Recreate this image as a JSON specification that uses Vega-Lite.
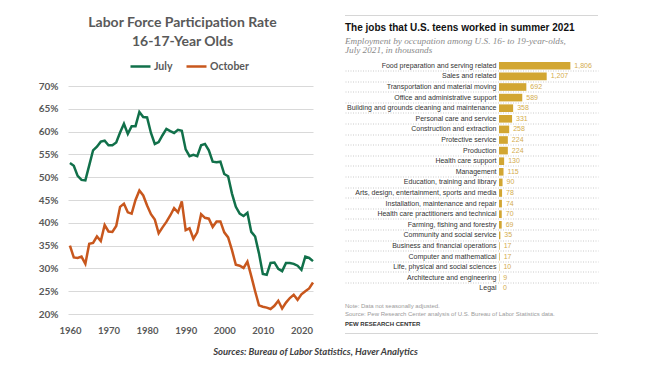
{
  "$schema": "https://vega.github.io/schema/vega-lite/v6.json",
  "background": "white",
  "padding": {"left": 5, "top": 15, "right": 5, "bottom": 5},
  "config": {"view": {"stroke": null}, "font": "Lato"},
  "title": {
    "text": "Sources: Bureau of Labor Statistics, Haver Analytics",
    "orient": "bottom", "anchor": "middle", "font": "Lato", "fontStyle": "italic",
    "fontWeight": "bold", "fontSize": 9.5, "color": "#404040", "offset": 12, "dx": 14
  },
  "spacing": 27,
  "hconcat": [
    {
      "spacing": 32,
      "vconcat": [
        {
          "width": 245, "height": 1,
          "view": {"stroke": null},
          "title": {
            "text": ["Labor Force Participation Rate", "16-17-Year Olds"],
            "orient": "bottom", "anchor": "middle", "dx": -8,
            "font": "Lato", "fontSize": 14, "fontWeight": "bold",
            "color": "#595959", "lineHeight": 18.5, "offset": 0
          },
          "data": {"values": []},
          "mark": "rule",
          "encoding": {}
        },
        {
          "width": 245,
          "height": 228,
          "data": {"values": [
            {"year": 1960, "July": 53.1, "October": 35.0},
            {"year": 1961, "July": 52.5, "October": 32.4},
            {"year": 1962, "July": 50.3, "October": 32.3},
            {"year": 1963, "July": 49.4, "October": 32.6},
            {"year": 1964, "July": 49.3, "October": 31.0},
            {"year": 1965, "July": 52.6, "October": 35.4},
            {"year": 1966, "July": 55.9, "October": 35.6},
            {"year": 1967, "July": 56.7, "October": 37.0},
            {"year": 1968, "July": 57.8, "October": 36.0},
            {"year": 1969, "July": 58.0, "October": 39.5},
            {"year": 1970, "July": 57.0, "October": 38.1},
            {"year": 1971, "July": 57.0, "October": 38.0},
            {"year": 1972, "July": 57.6, "October": 39.3},
            {"year": 1973, "July": 59.8, "October": 43.5},
            {"year": 1974, "July": 61.7, "October": 44.2},
            {"year": 1975, "July": 59.5, "October": 42.3},
            {"year": 1976, "July": 61.2, "October": 42.0},
            {"year": 1977, "July": 61.2, "October": 45.0},
            {"year": 1978, "July": 64.3, "October": 47.1},
            {"year": 1979, "July": 63.2, "October": 46.0},
            {"year": 1980, "July": 63.1, "October": 43.8},
            {"year": 1981, "July": 59.7, "October": 41.9},
            {"year": 1982, "July": 57.3, "October": 40.7},
            {"year": 1983, "July": 57.7, "October": 37.7},
            {"year": 1984, "July": 59.2, "October": 39.0},
            {"year": 1985, "July": 60.6, "October": 40.2},
            {"year": 1986, "July": 60.1, "October": 41.6},
            {"year": 1987, "July": 59.7, "October": 43.2},
            {"year": 1988, "July": 60.4, "October": 42.3},
            {"year": 1989, "July": 60.2, "October": 44.7},
            {"year": 1990, "July": 56.1, "October": 38.4},
            {"year": 1991, "July": 54.6, "October": 38.8},
            {"year": 1992, "July": 54.9, "October": 36.5},
            {"year": 1993, "July": 54.6, "October": 37.9},
            {"year": 1994, "July": 57.0, "October": 41.9},
            {"year": 1995, "July": 57.3, "October": 41.1},
            {"year": 1996, "July": 55.9, "October": 40.9},
            {"year": 1997, "July": 53.4, "October": 39.1},
            {"year": 1998, "July": 53.3, "October": 40.3},
            {"year": 1999, "July": 53.4, "October": 40.3},
            {"year": 2000, "July": 50.7, "October": 37.9},
            {"year": 2001, "July": 50.2, "October": 36.8},
            {"year": 2002, "July": 46.4, "October": 34.0},
            {"year": 2003, "July": 43.5, "October": 30.8},
            {"year": 2004, "July": 42.0, "October": 30.6},
            {"year": 2005, "July": 41.5, "October": 30.1},
            {"year": 2006, "July": 42.2, "October": 31.5},
            {"year": 2007, "July": 38.0, "October": 28.3},
            {"year": 2008, "July": 37.0, "October": 25.0},
            {"year": 2009, "July": 33.3, "October": 21.9},
            {"year": 2010, "July": 28.8, "October": 21.6},
            {"year": 2011, "July": 28.6, "October": 21.4},
            {"year": 2012, "July": 31.2, "October": 21.1},
            {"year": 2013, "July": 31.3, "October": 21.8},
            {"year": 2014, "July": 29.9, "October": 22.9},
            {"year": 2015, "July": 29.4, "October": 21.2},
            {"year": 2016, "July": 31.2, "October": 22.5},
            {"year": 2017, "July": 31.2, "October": 23.5},
            {"year": 2018, "July": 31.0, "October": 24.2},
            {"year": 2019, "July": 30.6, "October": 23.1},
            {"year": 2020, "July": 29.7, "October": 24.3},
            {"year": 2021, "July": 32.6, "October": 25.0},
            {"year": 2022, "July": 32.3, "October": 25.6},
            {"year": 2023, "July": 31.6, "October": 26.9}
          ]},
          "transform": [{"fold": ["July", "October"], "as": ["series", "rate"]}],
          "mark": {"type": "line", "strokeWidth": 2.5},
          "encoding": {
            "x": {
              "field": "year", "type": "quantitative",
              "scale": {"domain": [1959.5, 2023], "nice": false, "zero": false},
              "axis": {
                "title": null, "values": [1960, 1970, 1980, 1990, 2000, 2010, 2020], "format": "d",
                "grid": false, "ticks": false, "domain": false, "labelFont": "Lato",
                "labelFontWeight": "bold", "labelFontSize": 9.5, "labelColor": "#595959", "labelPadding": 11
              }
            },
            "y": {
              "field": "rate", "type": "quantitative",
              "scale": {"domain": [20, 70], "nice": false, "zero": false},
              "axis": {
                "title": null, "values": [20, 25, 30, 35, 40, 45, 50, 55, 60, 65, 70],
                "labelExpr": "datum.value + '%'", "grid": true, "gridColor": "#d9d9d9", "gridWidth": 1,
                "ticks": false, "domain": false, "labelFont": "Lato", "labelFontWeight": "bold",
                "labelFontSize": 10, "labelColor": "#595959", "labelPadding": 10,
                "minExtent": 63, "maxExtent": 63
              }
            },
            "color": {
              "field": "series", "type": "nominal",
              "scale": {"domain": ["July", "October"], "range": ["#11704A", "#C8571D"]},
              "legend": {
                "orient": "none", "legendX": 61, "legendY": 40, "direction": "horizontal", "title": null,
                "symbolType": "stroke", "symbolSize": 400, "symbolStrokeWidth": 2.5, "labelFont": "Lato",
                "labelFontSize": 10.5, "labelFontWeight": "bold", "labelColor": "#595959",
                "columnPadding": 8, "labelOffset": 2
              }
            }
          }
        }
      ]
    },
    {
      "spacing": 6.5,
      "vconcat": [
        {
          "width": 253, "height": 1,
          "view": {"stroke": null, "fill": "#d6d6d6"},
          "data": {"values": []},
          "mark": "rule",
          "encoding": {}
        },
        {
          "width": 253, "height": 235.5,
          "view": {"stroke": null},
          "title": {
            "text": "The jobs that U.S. teens worked in summer 2021",
            "subtitle": ["Employment by occupation among U.S. 16- to 19-year-olds,", "July 2021, in thousands"],
            "anchor": "start", "font": "Liberation Sans", "fontSize": 10, "fontWeight": "bold", "color": "#111111",
            "subtitleFont": "Liberation Serif", "subtitleFontStyle": "italic", "subtitleFontSize": 9.2,
            "subtitleColor": "#8a8a8a", "subtitlePadding": 4.5, "subtitleLineHeight": 8.7, "offset": 5.5
          },
          "data": {"values": [
            {"cat": "Food preparation and serving related", "v": 1806},
            {"cat": "Sales and related", "v": 1207},
            {"cat": "Transportation and material moving", "v": 692},
            {"cat": "Office and administrative support", "v": 589},
            {"cat": "Building and grounds cleaning and maintenance", "v": 358},
            {"cat": "Personal care and service", "v": 331},
            {"cat": "Construction and extraction", "v": 258},
            {"cat": "Protective service", "v": 224},
            {"cat": "Production", "v": 224},
            {"cat": "Health care support", "v": 130},
            {"cat": "Management", "v": 115},
            {"cat": "Education, training and library", "v": 90},
            {"cat": "Arts, design, entertainment, sports and media", "v": 78},
            {"cat": "Installation, maintenance and repair", "v": 74},
            {"cat": "Health care practitioners and technical", "v": 70},
            {"cat": "Farming, fishing and forestry", "v": 69},
            {"cat": "Community and social service", "v": 35},
            {"cat": "Business and financial operations", "v": 17},
            {"cat": "Computer and mathematical", "v": 17},
            {"cat": "Life, physical and social sciences", "v": 10},
            {"cat": "Architecture and engineering", "v": 9},
            {"cat": "Legal", "v": 0}
          ]},
          "encoding": {
            "y": {
              "field": "cat", "type": "nominal", "sort": null,
              "scale": {"paddingInner": 0, "paddingOuter": 0.1085, "align": 0},
              "axis": {
                "title": null, "labels": false, "ticks": false, "domain": false, "grid": true,
                "gridDash": [1, 1.5], "gridColor": "#bdbdbd", "gridWidth": 0.8, "bandPosition": 0,
                "minExtent": 0, "maxExtent": 0,
                "values": ["Sales and related", "Transportation and material moving", "Office and administrative support",
                  "Building and grounds cleaning and maintenance", "Personal care and service", "Construction and extraction",
                  "Protective service", "Production", "Health care support", "Management", "Education, training and library",
                  "Arts, design, entertainment, sports and media", "Installation, maintenance and repair",
                  "Health care practitioners and technical", "Farming, fishing and forestry", "Community and social service",
                  "Business and financial operations", "Computer and mathematical", "Life, physical and social sciences",
                  "Architecture and engineering", "Legal"]
              }
            }
          },
          "layer": [
            {
              "mark": {"type": "bar", "color": "#D2A632", "height": {"band": 0.72}},
              "encoding": {
                "x": {"field": "v", "type": "quantitative", "scale": {"domain": [-3896, 2505], "nice": false}, "axis": null}
              }
            },
            {
              "mark": {"type": "text", "align": "right", "baseline": "middle", "dx": -2.5, "font": "Liberation Sans", "fontSize": 7, "color": "#333333"},
              "encoding": {"x": {"datum": 0, "type": "quantitative"}, "text": {"field": "cat"}}
            },
            {
              "mark": {"type": "text", "align": "left", "baseline": "middle", "dx": 4, "font": "Liberation Sans", "fontSize": 7, "color": "#D4AC4E"},
              "encoding": {"x": {"field": "v", "type": "quantitative"}, "text": {"field": "v", "format": ","}}
            }
          ]
        },
        {
          "width": 253, "height": 1,
          "view": {"stroke": null, "fill": "#d6d6d6"},
          "title": {
            "text": ["Note: Data not seasonally adjusted.", "Source: Pew Research Center analysis of U.S. Bureau of Labor Statistics data."],
            "subtitle": "PEW RESEARCH CENTER",
            "anchor": "start", "font": "Liberation Sans", "fontSize": 6, "fontWeight": "normal", "color": "#9a9a9a",
            "lineHeight": 8, "subtitleFont": "Liberation Sans", "subtitleFontSize": 6, "subtitleFontWeight": "bold",
            "subtitleColor": "#333333", "subtitlePadding": 4, "offset": 6
          },
          "data": {"values": []},
          "mark": "rule",
          "encoding": {}
        }
      ]
    }
  ]
}
